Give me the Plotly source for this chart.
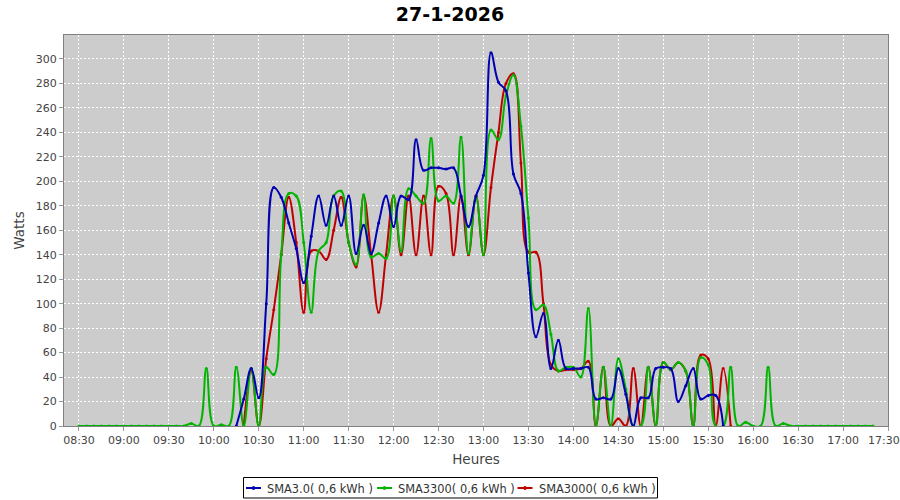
import plotly.graph_objects as go

times = [
    "08:30","08:35","08:40","08:45","08:50","08:55","09:00","09:05","09:10","09:15",
    "09:20","09:25","09:30","09:35","09:40","09:45","09:50","09:55","10:00","10:05",
    "10:10","10:15","10:20","10:25","10:30","10:35","10:40","10:45","10:50","10:55",
    "11:00","11:05","11:10","11:15","11:20","11:25","11:30","11:35","11:40","11:45",
    "11:50","11:55","12:00","12:05","12:10","12:15","12:20","12:25","12:30","12:35",
    "12:40","12:45","12:50","12:55","13:00","13:05","13:10","13:15","13:20","13:25",
    "13:30","13:35","13:40","13:45","13:50","13:55","14:00","14:05","14:10","14:15",
    "14:20","14:25","14:30","14:35","14:40","14:45","14:50","14:55","15:00","15:05",
    "15:10","15:15","15:20","15:25","15:30","15:35","15:40","15:45","15:50","15:55",
    "16:00","16:05","16:10","16:15","16:20","16:25","16:30","16:35","16:40","16:45",
    "16:50","16:55","17:00","17:05","17:10","17:15","17:20",
]

N = None
# SMA3.0 (blue)
sma30 = [
    N, N, N, N, N, N, N, N, N, N,
    N, N, N, N, N, N, N, N, N, N,
    N, 0, 22, 47, 23, 100, 195, 187, 166, 145,
    117, 155, 188, 164, 188, 164, 188, 141, 164, 141,
    166, 188, 163, 188, 185, 234, 209, 211, 211, 210,
    211, 188, 163, 188, 205, 305, 281, 274, 206, 190,
    125, 73, 92, 47, 70, 47, 47, 47, 48, 22,
    23, 22, 47, 26, 0, 23, 23, 47, 48, 47,
    20, 33, 47, 22, 25, 25, 0, N, N, N,
    N, N, N, N, N, N, N, N, N, N,
    N, N, N, N, N, N, N,
]
# SMA3300 (green)
sma3300 = [
    0, 0, 0, 0, 0, 0, 0, 0, 0, 0,
    0, 0, 0, 0, 0, 2, 0, 47, 0, 1,
    0, 48, 0, 47, 0, 48, 42, 140, 190, 188,
    150, 93, 143, 150, 188, 192, 150, 132, 189, 138,
    141, 137, 188, 143, 194, 188, 182, 235, 184, 188,
    182, 236, 141, 188, 140, 242, 234, 270, 287, 245,
    170, 95, 99, 75, 45, 48, 48, 40, 96, 0,
    48, 0, 55, 30, 0, 0, 48, 0, 52, 46,
    52, 45, 0, 56, 50, 0, 0, 48, 0, 3,
    0, 0, 48, 0, 2, 0, 0, 0, 0, 0,
    0, 0, 0, 0, 0, 0, 0,
]
# SMA3000 (red)
sma3000 = [
    N, N, N, N, N, N, N, N, N, N,
    N, N, N, N, N, N, N, N, N, N,
    N, N, 0, 45, 0, 55, 95, 140, 187, 150,
    93, 143, 143, 136, 160, 187, 150, 130, 188, 140,
    93, 140, 188, 140, 188, 140, 188, 140, 196, 190,
    140, 188, 140, 188, 140, 195, 240, 280, 288, 215,
    142, 142, 100, 50, 45, 46, 46, 47, 53, 0,
    48, 0, 6, 0, 47, 0, 48, 0, 52, 46,
    52, 45, 0, 58, 55, 0, 47, 0, N, N,
    N, N, N, N, N, N, N, N, N, N,
    N, N, N, N, N, N, N,
]

series_names = ["SMA3.0( 0,6 kWh )", "SMA3300( 0,6 kWh )", "SMA3000( 0,6 kWh )"]
colors = ["#0000b4", "#00b400", "#c00000"]

x = ["2026-01-27 " + t + ":00" for t in times]

fig = go.Figure()
# draw order: red bottom, green, blue on top
for name, vals, col in [(series_names[2], sma3000, colors[2]),
                        (series_names[1], sma3300, colors[1]),
                        (series_names[0], sma30, colors[0])]:
    fig.add_trace(go.Scatter(
        x=x, y=vals, name=name, mode="lines+markers",
        line=dict(color=col, width=2, shape="spline", smoothing=1.1),
        marker=dict(size=3, color=col),
        connectgaps=False, showlegend=False,
    ))

tick_vals = ["2026-01-27 %02d:%02d:00" % (h, m) for h in range(8, 18) for m in (0, 30)]
tick_vals = [t for t in tick_vals if "08:30" <= t[11:16] <= "17:30"]
tick_text = [t[11:16] for t in tick_vals]

# ---- layout geometry (pixels) ----
W, H = 900, 500
L, R, T, B = 64, 12, 35, 74
PW, PH = W - L - R, H - T - B


def px(xp):
    return (xp - L) / PW


def py(yp):
    return (H - B - yp) / PH


# ---- custom legend (JFreeChart style) ----
shapes = [dict(type="rect", xref="paper", yref="paper",
               x0=px(243.5), x1=px(657.5), y0=py(498), y1=py(477.5),
               line=dict(color="black", width=1), fillcolor="white", layer="above")]
annotations = []
legend_items = [(246, 264.5, 0), (377, 395.5, 1), (517.5, 536.5, 2)]
for lx, tx, k in legend_items:
    shapes.append(dict(type="line", xref="paper", yref="paper",
                       x0=px(lx), x1=px(lx + 15), y0=py(488), y1=py(488),
                       line=dict(color=colors[k], width=2), layer="above"))
    shapes.append(dict(type="circle", xref="paper", yref="paper",
                       x0=px(lx + 6), x1=px(lx + 9), y0=py(489.5), y1=py(486.5),
                       line=dict(color=colors[k], width=1), fillcolor=colors[k], layer="above"))
    annotations.append(dict(xref="paper", yref="paper", x=px(tx), y=py(488.5),
                            xanchor="left", yanchor="middle", showarrow=False,
                            text=series_names[k],
                            font=dict(family="DejaVu Sans", size=11.4, color="#333333")))

# label for the right-edge tick (17:30), which sits exactly on the range end
annotations.append(dict(xref="x", yref="paper", x="2026-01-27 17:30:00", y=0,
                        xanchor="center", yanchor="top", yshift=-6, xshift=-4, showarrow=False,
                        text="17:30", font=dict(family="DejaVu Sans", size=11, color="#444444")))

fig.update_layout(
    width=W, height=H,
    margin=dict(l=L, r=R, t=T, b=B, autoexpand=False),
    paper_bgcolor="white",
    plot_bgcolor="#cccccc",
    font=dict(family="DejaVu Sans", size=11, color="#444444"),
    title=dict(text="<b>27-1-2026</b>", x=0.5, xanchor="center", y=1 - 14 / H, yanchor="middle",
               font=dict(family="DejaVu Sans", size=19, color="black")),
    showlegend=False,
    shapes=shapes,
    annotations=annotations,
    xaxis=dict(
        type="date", automargin=False,
        range=["2026-01-27 08:20:00", "2026-01-27 17:30:00"],
        tickvals=tick_vals, ticktext=tick_text,
        showgrid=True, gridcolor="white", griddash="2px,2px", gridwidth=1,
        ticks="outside", ticklen=4, tickcolor="#999999",
        showline=True, linecolor="#808080", mirror=True, linewidth=1,
        zeroline=False,
        title=dict(text="Heures", font=dict(size=13.5, color="#444444"), standoff=8),
    ),
    yaxis=dict(
        automargin=False,
        range=[0, 319.6],
        tickmode="array", tickvals=list(range(0, 301, 20)),
        showgrid=True, gridcolor="white", griddash="2px,2px", gridwidth=1,
        ticks="outside", ticklen=4, tickcolor="#999999",
        showline=True, linecolor="#808080", mirror=True, linewidth=1,
        zeroline=False,
        title=dict(text="Watts", font=dict(size=13.5, color="#444444"), standoff=8),
    ),
)

fig.write_html("out.html", config={"displayModeBar": False},
               post_script="document.body.style.margin='0';")
